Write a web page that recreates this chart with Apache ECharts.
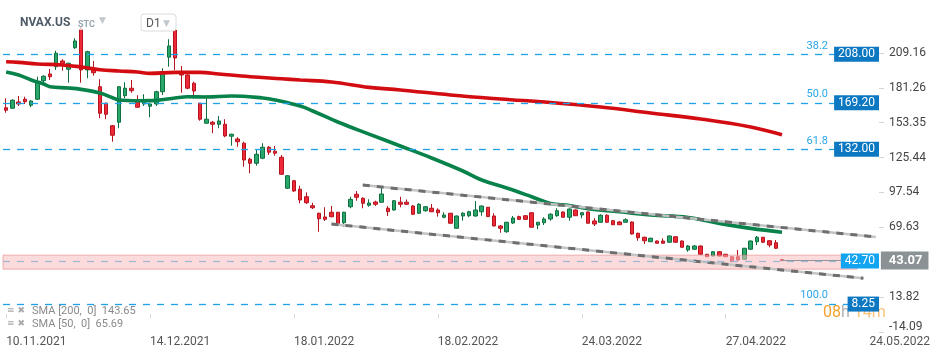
<!DOCTYPE html>
<html>
<head>
<meta charset="utf-8">
<script src="https://cdn.jsdelivr.net/npm/echarts@6/dist/echarts.min.js"></script>
<style>html,body{margin:0;padding:0;background:#fff;}#c{width:949px;height:358px;}</style>
</head>
<body>
<div id="c"></div>
<script>
// ---------- DATA ----------
const categories = [
'10.11.2021','11.11.2021','12.11.2021','15.11.2021','16.11.2021','17.11.2021','18.11.2021','19.11.2021','22.11.2021','23.11.2021','24.11.2021','26.11.2021','29.11.2021','30.11.2021',
'01.12.2021','02.12.2021','03.12.2021','06.12.2021','07.12.2021','08.12.2021','09.12.2021','10.12.2021','13.12.2021','14.12.2021','15.12.2021','16.12.2021','17.12.2021','20.12.2021','21.12.2021','22.12.2021','23.12.2021','27.12.2021','28.12.2021','29.12.2021','30.12.2021','31.12.2021',
'03.01.2022','04.01.2022','05.01.2022','06.01.2022','07.01.2022','10.01.2022','11.01.2022','12.01.2022','13.01.2022','14.01.2022','18.01.2022','19.01.2022','20.01.2022','21.01.2022','24.01.2022','25.01.2022','26.01.2022','27.01.2022','28.01.2022','31.01.2022',
'01.02.2022','02.02.2022','03.02.2022','04.02.2022','07.02.2022','08.02.2022','09.02.2022','10.02.2022','11.02.2022','14.02.2022','15.02.2022','16.02.2022','17.02.2022','18.02.2022','22.02.2022','23.02.2022','24.02.2022','25.02.2022','28.02.2022',
'01.03.2022','02.03.2022','03.03.2022','04.03.2022','07.03.2022','08.03.2022','09.03.2022','10.03.2022','11.03.2022','14.03.2022','15.03.2022','16.03.2022','17.03.2022','18.03.2022','21.03.2022','22.03.2022','23.03.2022','24.03.2022','25.03.2022','28.03.2022','29.03.2022','30.03.2022','31.03.2022',
'01.04.2022','04.04.2022','05.04.2022','06.04.2022','07.04.2022','08.04.2022','11.04.2022','12.04.2022','13.04.2022','14.04.2022','18.04.2022','19.04.2022','20.04.2022','21.04.2022','22.04.2022','25.04.2022','26.04.2022','27.04.2022','28.04.2022','29.04.2022',
'02.05.2022','03.05.2022','04.05.2022','05.05.2022','06.05.2022','09.05.2022','10.05.2022',
'11.05.2022','12.05.2022','13.05.2022','14.05.2022','15.05.2022','16.05.2022','17.05.2022','18.05.2022','19.05.2022','20.05.2022','21.05.2022','22.05.2022','23.05.2022','24.05.2022','25.05.2022'
];
const tickLabels = ['10.11.2021','14.12.2021','18.01.2022','18.02.2022','24.03.2022','27.04.2022','24.05.2022'];
const yTickValues = [-14.09, 13.82, 69.63, 97.54, 125.44, 153.35, 181.26, 209.16];
const yMin = -14.09, yMax = 237.07;

const open = [165.3,164.9,169.9,172.1,167.3,172.1,186.9,192.3,198.1,202.7,196.1,213.3,228.3,195.5,195.5,182.1,168.9,150.9,153.7,174.9,180.9,170.1,168.3,166.5,168.3,178.1,205.7,227.5,193.3,191.5,184.9,168.9,152.9,153.7,152.1,152.1,142.5,140.3,136.9,124.1,120.9,124.9,133.7,130.5,125.7,100.9,106.9,100.1,94.1,86.9,80.9,77.9,81.7,81.7,73.3,86.1,96.1,92.9,87.3,89.9,89.7,84.9,83.5,89.7,89.7,86.7,80.9,82.9,84.9,83.5,77.7,80.9,68.9,78.7,78.9,78.7,82.1,85.7,78.7,70.7,66.1,73.1,78.2,78.9,81.3,71.5,73.3,76.3,78.9,81.9,77.7,83.5,79.5,81.9,74.7,73.7,79.3,74.9,73.9,73.7,73.9,64.9,61.7,58.1,58.7,58.7,57.7,62.1,58.7,51.5,52.1,54.7,48.1,46.7,50.1,48.1,46.1,46.1,44.1,52.1,58.1,61.7,58.9,57.3,43.9];
const close = [163.3,171.3,168.3,170.1,170.7,186.1,190.5,190.1,208.9,200.5,200.9,218.7,195.5,210.1,193.3,160.9,160.1,143.3,182.1,180.9,178.9,165.7,170.5,168.3,178.1,194.1,214.7,205.1,191.5,180.9,178.7,156.1,156.1,152.1,154.7,142.7,144.1,138.1,123.5,120.9,128.1,133.7,129.7,128.9,112.1,110.9,98.7,91.5,89.3,85.3,76.5,76.1,78.1,72.1,81.7,92.0,93.7,88.9,89.1,88.1,96.3,82.2,90.9,88.1,88.1,80.1,88.1,86.1,82.1,81.3,79.5,72.9,78.7,80.9,82.1,83.5,86.7,78.2,70.7,68.9,73.7,77.1,76.0,76.0,69.7,73.7,76.3,80.1,82.9,77.7,84.3,78.9,81.3,72.9,72.3,79.3,73.7,71.7,71.7,75.7,64.3,61.3,58.9,60.9,56.9,56.9,62.7,57.7,53.7,54.7,54.7,48.1,46.1,50.1,46.7,46.1,42.1,43.5,52.9,58.7,61.7,57.7,55.5,52.9,43.07];
const low = [161.3,164.3,166.7,168.3,165.7,171.5,184.3,187.5,195.5,194.9,185.3,212.3,185.3,188.9,190.9,156.9,156.1,138.1,148.9,172.9,177.3,165.5,166.7,157.7,166.7,175.5,198.1,195.5,177.3,180.1,172.9,154.9,152.5,144.9,148.9,141.7,134.9,134.1,118.1,112.9,118.9,124.1,127.5,126.9,111.5,100.3,98.1,88.9,88.3,84.3,66.1,74.7,77.7,71.5,70.1,84.9,90.9,84.9,86.1,86.7,89.5,78.7,82.9,85.7,87.5,79.5,80.3,82.1,81.9,78.2,76.9,72.7,68.7,74.9,77.7,78.1,78.9,77.9,70.5,65.3,65.3,72.3,75.6,75.7,69.5,68.1,71.5,74.9,78.1,77.5,74.9,78.7,76.9,72.7,70.7,73.3,73.3,71.5,71.5,73.3,63.9,58.9,56.3,57.9,56.5,56.5,57.3,57.3,53.3,50.1,51.5,47.7,45.9,46.5,46.5,45.9,41.9,43.3,43.7,51.7,55.5,57.3,53.7,52.3,42.5];
const high = [172.9,172.1,174.7,174.1,171.3,190.1,191.3,196.3,210.9,204.1,201.3,220.9,229.9,210.9,202.7,188.1,169.3,151.5,182.7,185.7,187.5,175.3,176.1,169.3,178.9,196.9,220.1,229.1,198.7,192.9,186.1,169.3,175.5,154.7,158.7,156.1,144.5,141.7,138.1,125.3,132.1,136.9,134.7,134.7,127.5,111.5,107.5,102.9,97.6,89.3,81.3,85.7,86.7,81.9,82.1,94.1,98.7,93.7,92.1,90.9,101.7,86.7,91.5,94.1,91.9,87.5,88.9,86.7,88.3,84.9,81.7,81.1,79.1,81.7,82.9,90.7,86.9,85.9,80.9,71.5,73.9,78.7,79.0,79.3,81.9,73.9,77.7,80.9,84.9,82.3,84.7,83.9,81.9,82.3,76.9,80.1,80.1,75.5,74.7,76.9,74.3,65.3,62.1,61.3,59.1,60.9,63.1,62.5,59.1,55.5,55.5,55.1,48.3,50.5,50.5,48.3,46.5,51.5,53.1,59.1,62.7,61.9,59.5,59.5,44.3];

// SMA lines: [category index, value]
const sma200 = [[0,202.1],[2,201.6],[5,200.3],[9,199.5],[12,197.9],[15,195.7],[18,194.7],[21,193.9],[23,192.8],[27,193.6],[31,193.6],[34,192.3],[39,190.1],[44,188.5],[47,187.5],[52,185.9],[58,181.6],[63,179.5],[71,175.5],[79,172.3],[87,169.5],[95,165.9],[103,161.1],[111,156.3],[119,149.9],[124,143.65]];
const sma50 = [[0,193.9],[2,191.5],[4,187.5],[6,184.3],[7,182.1],[10,181.1],[12,180.0],[15,177.1],[17,173.3],[18,171.5],[21,170.9],[24,171.2],[27,173.1],[29,174.1],[32,173.9],[36,174.7],[41,173.1],[43,171.5],[47,166.7],[49,162.7],[53,153.9],[58,144.2],[63,134.7],[68,125.1],[73,114.7],[76,107.5],[80,101.1],[84,94.1],[87,88.7],[90,87.1],[93,84.5],[98,82.1],[103,79.5],[109,77.5],[114,72.8],[119,68.8],[124,65.69]];

// Fibonacci levels
const fibRatios = ['38.2','50.0','61.8','100.0'];
const fibLevels = [208.00, 169.20, 132.00, 8.25];
// support zone & price
const supportLevel = 42.70;
const zoneTop = 47.4, zoneBottom = 36.2, zoneEnd = '22.05.2022';
const lastPrice = 43.07;
// trend channel
const channelUpper = [['02.02.2022',103.4],['25.05.2022',61.9]];
const channelLower = [['26.01.2022',72.3],['23.05.2022',28.9]];
const legendTexts = ['SMA [200,  0]  143.65','SMA [50,  0]  65.69'];

// ---------- CHART ----------
const FONT = 'Roboto';
const candles = open.map((o,i)=>[o, close[i], low[i], high[i]]);
const chart = echarts.init(document.getElementById('c'), null, {renderer:'canvas'});
const tickSet = new Set(tickLabels);

const fibMarks = [];
const ratioMarks = [];
fibLevels.forEach((v,k)=>{
  fibMarks.push({yAxis:v, lineStyle:{color:'#1ea2ea', type:[7,7], width:1.3},
    label:{show:true, position:'insideEnd', distance:0, formatter:v.toFixed(2), color:'#fff', backgroundColor:'#0b78c1', padding:[2,4,1,4], fontSize:12, fontFamily:FONT}});
  ratioMarks.push({yAxis:v,
    label:{show:true, position:'insideEndTop', distance:[51,3], formatter:fibRatios[k], color:'#2ba6ea', fontSize:11, fontFamily:FONT}});
});
fibMarks.push({yAxis:supportLevel, lineStyle:{color:'#9db8d6', type:[7,7], width:1.2},
  label:{show:true, position:'insideEnd', distance:0, formatter:supportLevel.toFixed(2), color:'#fff', backgroundColor:'#12a4f0', padding:[2,4,1,4], fontSize:12, fontFamily:FONT}});
fibMarks.push([
  {coord:[categories[open.length-1], lastPrice], lineStyle:{color:'#8f9598', width:1, type:'solid'},
   label:{show:true, position:'end', distance:5, formatter:lastPrice.toFixed(2), color:'#fff', backgroundColor:'#8b9295', padding:[3,6,2,8], fontSize:13, fontWeight:'bold', fontFamily:FONT}},
  {coord:[categories[categories.length-1], lastPrice]}
]);

function channelSeries(pts){
  return [
    {type:'line', data:pts, symbol:'none', silent:true, z:4, lineStyle:{color:'#c4c4c4', width:2.5}},
    {type:'line', data:pts, symbol:'none', silent:true, z:4, lineStyle:{color:'#6e6e6e', width:3, type:[7,7]}}
  ];
}

const option = {
  animation:false,
  backgroundColor:'#fff',
  grid:{left:3, right:70, top:18, bottom:26, containLabel:false},
  xAxis:{
    type:'category', data:categories, boundaryGap:true,
    axisLine:{show:false},
    axisTick:{show:true, alignWithLabel:true, length:4, lineStyle:{color:'#d5d5d5'}, interval:(i,v)=>tickSet.has(v)},
    axisLabel:{interval:(i,v)=>tickSet.has(v), align:'left', margin:4, color:'#555', fontSize:12, fontFamily:FONT},
    splitLine:{show:false}
  },
  yAxis:{
    type:'value', position:'right', min:yMin, max:yMax, scale:true,
    axisLine:{show:false},
    axisTick:{show:true, length:5, customValues:yTickValues, lineStyle:{color:'#d5d5d5'}},
    axisLabel:{customValues:yTickValues, margin:10, color:'#444', fontSize:12, fontFamily:FONT,
      formatter:(v)=> v < 0 ? '{lo|'+v.toFixed(2)+'}' : v.toFixed(2),
      rich:{lo:{padding:[0,0,10,0], color:'#444', fontSize:12, fontFamily:FONT}}},
    splitLine:{show:false}
  },
  series:[
    {
      type:'candlestick', name:'NVAX.US', data:candles, barWidth:4, z:2,
      itemStyle:{color:'#27a86a', color0:'#ee2a39', borderColor:'#0f6f41', borderColor0:'#b5141f', borderWidth:1},
      markArea:{silent:true, z:3, itemStyle:{color:'rgba(248,190,190,0.55)', borderColor:'rgba(232,120,120,0.55)', borderWidth:1},
        data:[[{yAxis:zoneTop},{xAxis:zoneEnd, yAxis:zoneBottom}]]},
      markLine:{silent:true, symbol:['none','none'], z:5, animation:false, data:fibMarks}
    },
    {type:'line', name:'SMA200', data:sma200, symbol:'none', smooth:0.4, z:3, silent:true, lineStyle:{color:'#d30c12', width:3.6}},
    {type:'line', name:'SMA50', data:sma50, symbol:'none', smooth:0.4, z:3, silent:true, lineStyle:{color:'#07824a', width:3.6},
      markLine:{silent:true, symbol:['none','none'], z:5, animation:false, lineStyle:{color:'rgba(0,0,0,0)', width:1, type:'solid'}, data:ratioMarks}},
    ...channelSeries(channelUpper),
    ...channelSeries(channelLower)
  ],
  graphic:[
    {type:'rect', shape:{x:0,y:0,width:205,height:30}, style:{fill:'rgba(255,255,255,0.72)'}, z:50, silent:true},
    {type:'text', x:20, y:17, style:{text:'NVAX.US', fill:'#4f5b66', font:'bold 12px Roboto'}, z:51},
    {type:'text', x:78, y:20, style:{text:'STC', fill:'#98a6b3', font:'bold 9px Roboto'}, z:51},
    {type:'text', x:99, y:16, style:{text:'▼', fill:'#c3c8cd', font:'9px DejaVu Sans'}, z:51},
    {type:'rect', shape:{x:141,y:14,width:35,height:17,r:3}, style:{fill:'rgba(255,255,255,0.85)', stroke:'#dcdcdc', lineWidth:1}, z:51},
    {type:'text', x:146, y:18, style:{text:'D1', fill:'#555', font:'12px Roboto'}, z:52},
    {type:'text', x:163, y:19, style:{text:'▼', fill:'#c3c8cd', font:'9px DejaVu Sans'}, z:52},
    {type:'text', x:7, y:306, style:{text:'≡ ✖', fill:'#a9a9a9', font:'9px DejaVu Sans'}, z:51},
    {type:'text', x:32, y:306, style:{text:legendTexts[0], fill:'#8a8a8a', font:'11px Roboto'}, z:51},
    {type:'text', x:7, y:319, style:{text:'≡ ✖', fill:'#a9a9a9', font:'9px DejaVu Sans'}, z:51},
    {type:'text', x:32, y:319, style:{text:legendTexts[1], fill:'#8a8a8a', font:'11px Roboto'}, z:51},
    {type:'text', x:823, y:305, z:1, style:{text:'{o|08}{g|h }{p|14m}', rich:{o:{fill:'#f6a02e', font:'16px Roboto'}, g:{fill:'#b0b0b0', font:'16px Roboto'}, p:{fill:'#f8c27a', font:'16px Roboto'}}}}
  ]
};
chart.setOption(option);
</script>
</body>
</html>
